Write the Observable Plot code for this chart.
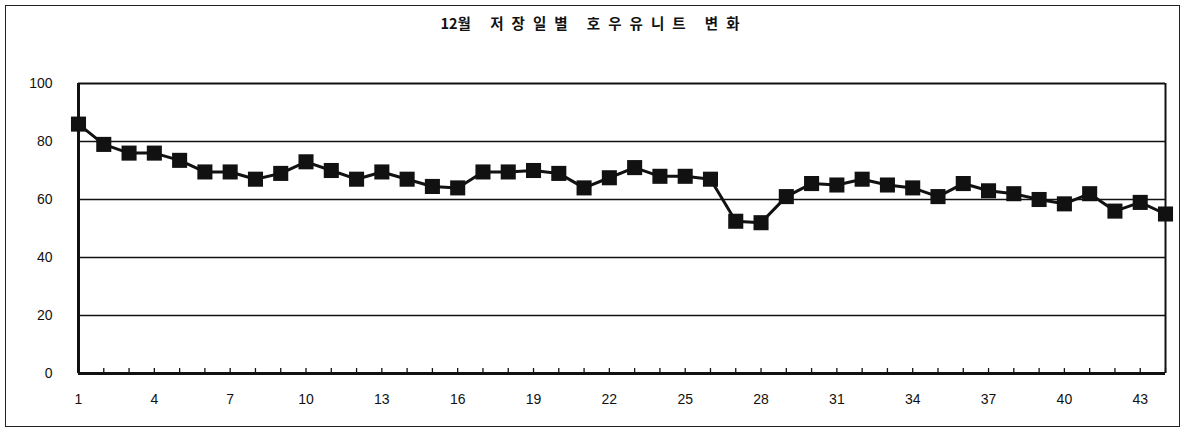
<!DOCTYPE html>
<html>
<head>
<meta charset="utf-8">
<script src="https://cdn.jsdelivr.net/npm/d3@7"></script>
<script src="https://cdn.jsdelivr.net/npm/@observablehq/plot@0.6"></script>
<style>
  body { margin: 0; background: #fff; }
  #wrap { position: relative; width: 1197px; height: 432px; overflow: hidden; }
  #frame { position: absolute; left: 5px; top: 5px; width: 1175px; height: 422px; border: 1px solid #222; box-sizing: border-box; }
  #title { position: absolute; left: 0; width: 1188px; top: 12px; text-align: center;
           font-family: "Noto Sans CJK KR", sans-serif; font-weight: bold; font-size: 14.5px; letter-spacing: 8px; color: #111; }
  #title .num { letter-spacing: 0; }
  #chart { position: absolute; left: 0; top: 0; }
</style>
</head>
<body>
<div id="wrap">
  <div id="frame"></div>
  <div id="title"><span class="num">12</span>월 저장일별 호우유니트 변화</div>
  <div id="chart"></div>
</div>
<script>
const days = d3.range(1, 45);
const haughUnits = [86, 79, 76, 76, 73.5, 69.5, 69.5, 67, 69, 73,
                    70, 67, 69.5, 67, 64.5, 64, 69.5, 69.5, 70, 69,
                    64, 67.5, 71, 68, 68, 67, 52.5, 52, 61, 65.5,
                    65, 67, 65, 64, 61, 65.5, 63, 62, 60, 58.5,
                    62, 56, 59, 55];
const xTickLabels = [1, 4, 7, 10, 13, 16, 19, 22, 25, 28, 31, 34, 37, 40, 43];
const yTickLabels = [0, 20, 40, 60, 80, 100];
const gridValues = [20, 40, 60, 80];

const data = days.map((d, i) => ({day: d, value: haughUnits[i]}));

const chart = Plot.plot({
  width: 1197,
  height: 432,
  marginLeft: 78,
  marginRight: 32,
  marginTop: 83,
  marginBottom: 59,
  style: {fontFamily: "'Liberation Sans', Arial, sans-serif", fontSize: "14px", color: "#111", background: "transparent"},
  x: {domain: [1, 44], ticks: xTickLabels, tickSize: 0, tickPadding: 21, label: null},
  y: {domain: [0, 100], ticks: yTickLabels, tickSize: 0, tickPadding: 26, label: null},
  marks: [
    Plot.ruleY(gridValues, {stroke: "#111", strokeWidth: 1.3}),
    Plot.ruleX(days, {y1: 0, y2: 1.7, stroke: "#111", strokeWidth: 1.3}),
    Plot.ruleY([100], {stroke: "#111", strokeWidth: 2}),
    Plot.ruleX([44], {stroke: "#111", strokeWidth: 2}),
    Plot.ruleY([0], {stroke: "#111", strokeWidth: 3}),
    Plot.ruleX([1], {stroke: "#111", strokeWidth: 3}),
    Plot.line(data, {x: "day", y: "value", stroke: "#111", strokeWidth: 3}),
    Plot.dot(data, {x: "day", y: "value", symbol: "square", r: 8.5, fill: "#111", stroke: "none"})
  ]
});
document.getElementById("chart").appendChild(chart);
</script>
</body>
</html>
